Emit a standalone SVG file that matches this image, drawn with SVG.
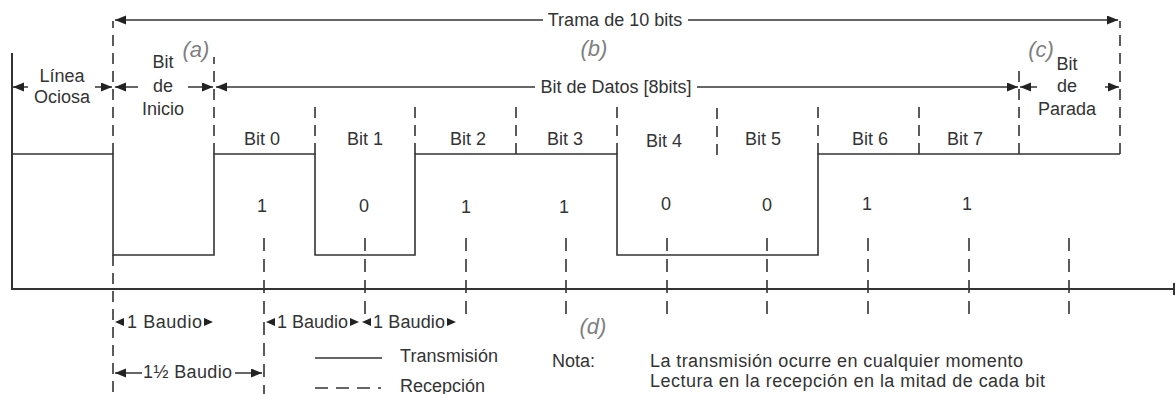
<svg xmlns="http://www.w3.org/2000/svg" width="1175" height="394" viewBox="0 0 1175 394">
  <style>
    .txt { font-family: "Liberation Sans", Arial, sans-serif; font-size: 18px; fill: #333; }
    .mid { text-anchor: middle; }
    .tag { font-family: "Liberation Sans", Arial, sans-serif; font-size: 22px; font-style: italic; fill: #808080; text-anchor: middle; }
    .solid { fill: none; stroke: #333; stroke-width: 1.6; }
    .axis { fill: none; stroke: #333; stroke-width: 2; }
    .dash { fill: none; stroke: #333; stroke-width: 1.6; stroke-dasharray: 11 7; }
    .samp { fill: none; stroke: #333; stroke-width: 1.6; stroke-dasharray: 13 8; }
    .dim { fill: none; stroke: #333; stroke-width: 1.5; }
    .head { fill: #222; }
  </style>
  <defs>
    <marker id="arrow" markerUnits="userSpaceOnUse" markerWidth="12" markerHeight="10" refX="11" refY="4.5" orient="auto">
      <path d="M0,0 L11,4.5 L0,9 z" class="head"/>
    </marker>
    <!-- small shaftless heads, origin at the tip -->
    <path id="tri-r" d="M-9,-4 L0,0 L-9,4 z" class="head"/>
    <path id="tri-l" d="M9,-4 L0,0 L9,4 z" class="head"/>
  </defs>

  <!-- axes -->
  <g id="axes">
    <path class="axis" d="M12,53 V289 H1175"/>
    <path class="axis" d="M1174,283 V295"/>
  </g>

  <!-- transmitted signal -->
  <g id="waveform">
    <path class="solid" d="M12,154 H113 V255 H214 V154 H315 V255 H415 V154 H617 V255 H818 V154 H1120"/>
  </g>

  <!-- bit boundaries -->
  <g id="boundaries">
    <path class="dash" d="M113,154 V21"/>
    <path class="dash" d="M113,255 V394"/>
    <path class="dash" d="M214,154 V57"/>
    <path class="dash" d="M315,154 V106"/>
    <path class="dash" d="M415,154 V106"/>
    <path class="dash" d="M516,154 V106"/>
    <path class="dash" d="M617,154 V106"/>
    <path class="dash" d="M717,155 V106"/>
    <path class="dash" d="M818,154 V106"/>
    <path class="dash" d="M919,154 V106"/>
    <path class="dash" d="M1019,154 V64"/>
    <path class="dash" d="M1120,154 V21"/>
  </g>

  <!-- reception sampling points (middle of each bit) -->
  <g id="sampling">
    <path class="samp" d="M264,238 V394"/>
    <path class="samp" d="M365,238 V318"/>
    <path class="samp" d="M466,238 V316"/>
    <path class="samp" d="M566,238 V316"/>
    <path class="samp" d="M667,238 V316"/>
    <path class="samp" d="M767,238 V316"/>
    <path class="samp" d="M868,238 V316"/>
    <path class="samp" d="M969,238 V316"/>
    <path class="samp" d="M1069,238 V316"/>
  </g>

  <!-- dimension arrows -->
  <g id="connectors">
    <!-- frame -->
    <line class="dim" x1="543" y1="20" x2="115" y2="20" marker-end="url(#arrow)"/>
    <line class="dim" x1="688" y1="20" x2="1118" y2="20" marker-end="url(#arrow)"/>
    <!-- idle line -->
    <line class="dim" x1="28" y1="87" x2="13" y2="87" marker-end="url(#arrow)"/>
    <line class="dim" x1="95" y1="87" x2="112" y2="87" marker-end="url(#arrow)"/>
    <!-- start bit -->
    <line class="dim" x1="138" y1="87" x2="115" y2="87" marker-end="url(#arrow)"/>
    <line class="dim" x1="188" y1="87" x2="213" y2="87" marker-end="url(#arrow)"/>
    <!-- data bits -->
    <line class="dim" x1="535" y1="87" x2="216" y2="87" marker-end="url(#arrow)"/>
    <line class="dim" x1="697" y1="87" x2="1018" y2="87" marker-end="url(#arrow)"/>
    <!-- stop bit -->
    <line class="dim" x1="1037" y1="87" x2="1020" y2="87" marker-end="url(#arrow)"/>
    <line class="dim" x1="1105" y1="87" x2="1119" y2="87" marker-end="url(#arrow)"/>
    <!-- baud marks -->
    <use href="#tri-l" x="115" y="322"/>
    <use href="#tri-r" x="213" y="322"/>
    <use href="#tri-l" x="266" y="322"/>
    <use href="#tri-r" x="359" y="322"/>
    <use href="#tri-l" x="362" y="322"/>
    <use href="#tri-r" x="456" y="322"/>
    <!-- one and a half baud -->
    <line class="dim" x1="142" y1="373" x2="115" y2="373" marker-end="url(#arrow)"/>
    <line class="dim" x1="235" y1="373" x2="262" y2="373" marker-end="url(#arrow)"/>
  </g>

  <!-- frame labels -->
  <g id="labels-top">
    <text class="txt mid" x="615" y="26">Trama de 10 bits</text>
    <text class="txt mid" x="616" y="93">Bit de Datos [8bits]</text>
    <text class="txt mid" x="62" y="82">Línea</text>
    <text class="txt mid" x="62" y="103">Ociosa</text>
    <text class="txt mid" x="163" y="68">Bit</text>
    <text class="txt mid" x="163" y="92">de</text>
    <text class="txt mid" x="163" y="115">Inicio</text>
    <text class="txt mid" x="1067" y="70">Bit</text>
    <text class="txt mid" x="1067" y="92">de</text>
    <text class="txt mid" x="1067" y="115">Parada</text>
    <text class="tag" x="196" y="57">(a)</text>
    <text class="tag" x="594" y="56">(b)</text>
    <text class="tag" x="1041" y="57">(c)</text>
    <text class="tag" x="593" y="334">(d)</text>
  </g>

  <!-- bit names and values -->
  <g id="bits">
    <text class="txt mid" x="262" y="145">Bit 0</text>
    <text class="txt mid" x="365" y="145">Bit 1</text>
    <text class="txt mid" x="468" y="145">Bit 2</text>
    <text class="txt mid" x="565" y="145">Bit 3</text>
    <text class="txt mid" x="664" y="147">Bit 4</text>
    <text class="txt mid" x="763" y="145">Bit 5</text>
    <text class="txt mid" x="870" y="145">Bit 6</text>
    <text class="txt mid" x="965" y="145">Bit 7</text>
    <text class="txt mid" x="262" y="212">1</text>
    <text class="txt mid" x="364" y="212">0</text>
    <text class="txt mid" x="466" y="213">1</text>
    <text class="txt mid" x="564" y="213">1</text>
    <text class="txt mid" x="666" y="210">0</text>
    <text class="txt mid" x="767" y="211">0</text>
    <text class="txt mid" x="867" y="210">1</text>
    <text class="txt mid" x="967" y="210">1</text>
  </g>

  <!-- baud labels -->
  <g id="labels-bottom">
    <text class="txt" x="127" y="328" textLength="75" lengthAdjust="spacing">1 Baudio</text>
    <text class="txt" x="277" y="328" textLength="71" lengthAdjust="spacing">1 Baudio</text>
    <text class="txt" x="373" y="328" textLength="72" lengthAdjust="spacing">1 Baudio</text>
    <text class="txt" x="143" y="378" textLength="89" lengthAdjust="spacing">1½ Baudio</text>
  </g>

  <g id="legend">
    <line class="solid" x1="315" y1="358" x2="382" y2="358"/>
    <text class="txt" x="400" y="362" textLength="98" lengthAdjust="spacing">Transmisión</text>
    <line class="samp" x1="315" y1="388" x2="381" y2="388"/>
    <text class="txt" x="400" y="392" textLength="85" lengthAdjust="spacing">Recepción</text>
  </g>

  <g id="note">
    <text class="txt" x="552" y="367" textLength="43" lengthAdjust="spacing">Nota:</text>
    <text class="txt" x="650" y="367" textLength="373" lengthAdjust="spacing">La transmisión ocurre en cualquier momento</text>
    <text class="txt" x="650" y="387" textLength="395" lengthAdjust="spacing">Lectura en la recepción en la mitad de cada bit</text>
  </g>
</svg>
